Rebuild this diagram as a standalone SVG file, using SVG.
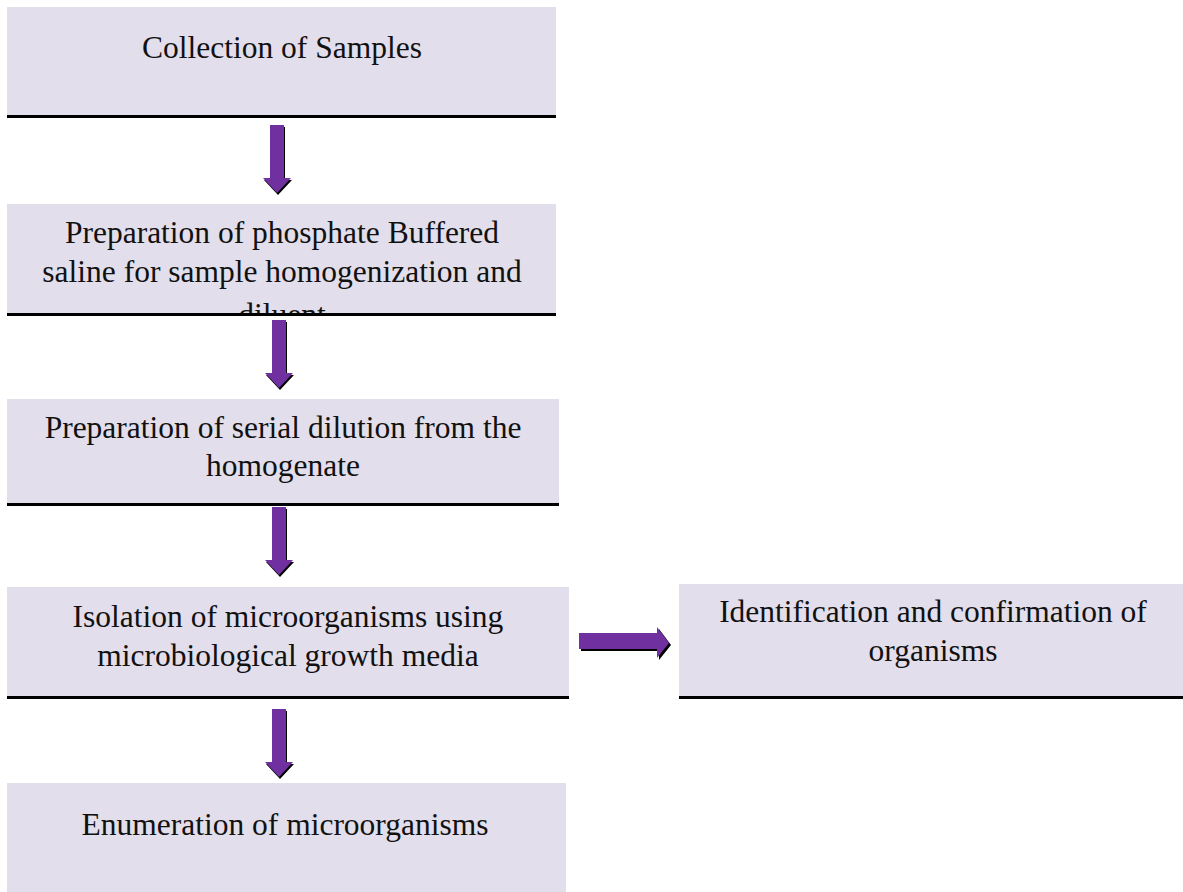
<svg xmlns="http://www.w3.org/2000/svg" width="1183" height="892" viewBox="0 0 1183 892">
<style>
.box{fill:#E3DEEB}
.bar{fill:#000}
.t{font-family:"Liberation Serif","Times New Roman",serif;font-size:31.5px;fill:#111;text-anchor:middle}
.arr{fill:#7030A0}
.sh{fill:#000}
</style>
<defs>
<clipPath id="c2"><rect x="7" y="204" width="549" height="109"/></clipPath>
<polygon id="down" points="-7,0 7,0 7,53 14,53 0,68 -14,53 -7,53"/>
</defs>
<rect width="1183" height="892" fill="#fff"/>
<g id="n1">
<rect class="box" x="7" y="7" width="549" height="108"/>
<rect class="bar" x="7" y="115" width="549" height="3"/>
<text class="t" x="282" y="58">Collection of Samples</text>
</g>
<g id="n2">
<rect class="box" x="7" y="204" width="549" height="109"/>
<rect class="bar" x="7" y="313" width="549" height="3"/>
<g clip-path="url(#c2)">
<text class="t" x="282" y="243">Preparation of phosphate Buffered</text>
<text class="t" x="282" y="282">saline for sample homogenization and</text>
<text class="t" x="282" y="325">diluent</text>
</g>
</g>
<g id="n3">
<rect class="box" x="7" y="399" width="552" height="104"/>
<rect class="bar" x="7" y="503" width="552" height="3"/>
<text class="t" x="283" y="438">Preparation of serial dilution from the</text>
<text class="t" x="283" y="476">homogenate</text>
</g>
<g id="n4">
<rect class="box" x="7" y="587" width="562" height="109"/>
<rect class="bar" x="7" y="696" width="562" height="3"/>
<text class="t" x="288" y="627">Isolation of microorganisms using</text>
<text class="t" x="288" y="666">microbiological growth media</text>
</g>
<g id="n5">
<rect class="box" x="679" y="584" width="504" height="112"/>
<rect class="bar" x="679" y="696" width="504" height="3"/>
<text class="t" x="933" y="622">Identification and confirmation of</text>
<text class="t" x="933" y="661">organisms</text>
</g>
<g id="n6">
<rect class="box" x="7" y="783" width="559" height="109"/>
<text class="t" x="285" y="835">Enumeration of microorganisms</text>
</g>
<g id="connectors">
<use href="#down" class="sh" x="278" y="127"/>
<use href="#down" class="arr" x="277" y="125"/>
<use href="#down" class="sh" x="280" y="322"/>
<use href="#down" class="arr" x="279" y="320"/>
<use href="#down" class="sh" x="280" y="509"/>
<use href="#down" class="arr" x="279" y="507"/>
<use href="#down" class="sh" x="280" y="711"/>
<use href="#down" class="arr" x="279" y="709"/>
<polygon class="sh" points="581,635 659,635 659,629 671,645 659,660 659,651 581,651"/>
<polygon class="arr" points="579,633 657,633 657,627 669,643 657,658 657,649 579,649"/>
</g>
</svg>
